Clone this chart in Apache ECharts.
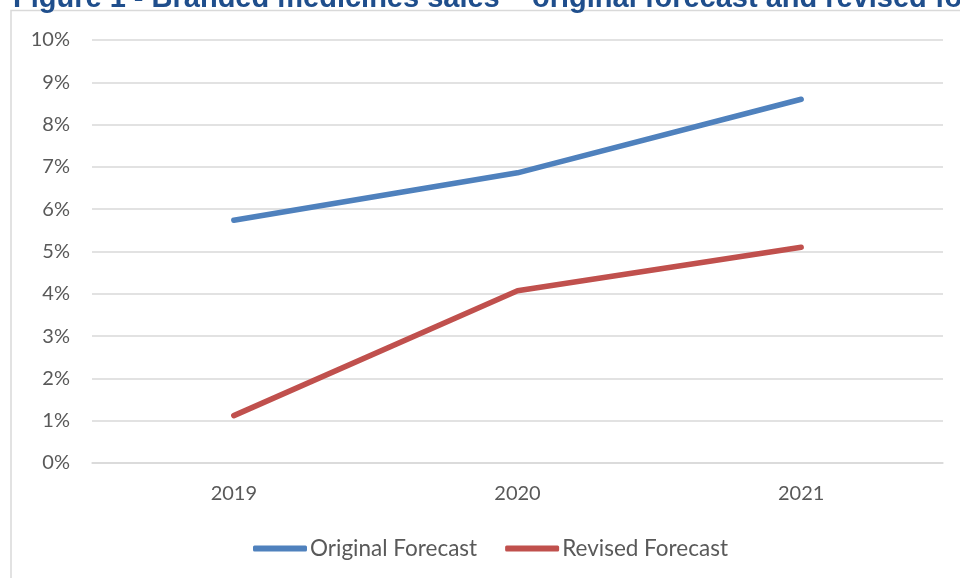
<!DOCTYPE html>
<html>
<head>
<meta charset="utf-8">
<script src="https://cdn.jsdelivr.net/npm/echarts@6/dist/echarts.min.js"></script>
<style>
  html, body { margin: 0; padding: 0; background: #fff; }
  #main { width: 960px; height: 578px; }
</style>
</head>
<body>
<div id="main"></div>
<script>
// data
var years = ['2019', '2020', '2021'];
var originalForecast = [5.74, 6.86, 8.6];
var revisedForecast = [1.12, 4.07, 5.1];

var textColor = '#595959';
var fontName = 'Lato';

var myChart = echarts.init(document.getElementById('main'));
myChart.setOption({
  animation: false,
  backgroundColor: '#fff',
  graphic: [
    {
      type: 'rect',
      z: -10,
      shape: { x: 11, y: 10.5, width: 1000, height: 600 },
      style: { fill: '#fff', stroke: '#d9d9d9', lineWidth: 1.5 }
    },
    {
      // title is cut off at the top of the picture
      type: 'text',
      x: 13,
      y: 13,
      z: 10,
      style: {
        text: 'Figure 1 - Branded medicines sales \u2013 original forecast and revised forecast',
        font: 'bold 29px "Liberation Sans", Arial, sans-serif',
        fill: '#1f4e8c',
        verticalAlign: 'bottom'
      }
    }
  ],
  grid: { left: 92, right: 17, top: 40, bottom: 115 },
  legend: {
    left: 248,
    top: 532,
    icon: 'roundRect',
    itemWidth: 54,
    itemHeight: 6,
    itemGap: 28,
    textStyle: { color: textColor, fontSize: 22.5, fontFamily: fontName, padding: [0, 0, 0, -2] },
    data: ['Original Forecast', 'Revised Forecast']
  },
  xAxis: {
    type: 'category',
    data: years,
    boundaryGap: true,
    axisLine: { lineStyle: { color: '#d9d9d9', width: 1.5 } },
    axisTick: { show: false },
    axisLabel: { color: textColor, fontSize: 20, fontFamily: fontName, margin: 21 }
  },
  yAxis: {
    type: 'value',
    min: 0,
    max: 10,
    interval: 1,
    axisLine: { show: false },
    axisTick: { show: false },
    splitLine: { lineStyle: { color: '#d9d9d9', width: 1.5 } },
    axisLabel: { color: textColor, fontSize: 20, fontFamily: fontName, margin: 22, formatter: '{value}%' }
  },
  series: [
    {
      name: 'Original Forecast',
      type: 'line',
      data: originalForecast,
      symbol: 'none',
      lineStyle: { color: '#4f81bd', width: 5.5, cap: 'round', join: 'round' },
      itemStyle: { color: '#4f81bd' }
    },
    {
      name: 'Revised Forecast',
      type: 'line',
      data: revisedForecast,
      symbol: 'none',
      lineStyle: { color: '#c0504d', width: 5.5, cap: 'round', join: 'round' },
      itemStyle: { color: '#c0504d' }
    }
  ]
});
</script>
</body>
</html>
